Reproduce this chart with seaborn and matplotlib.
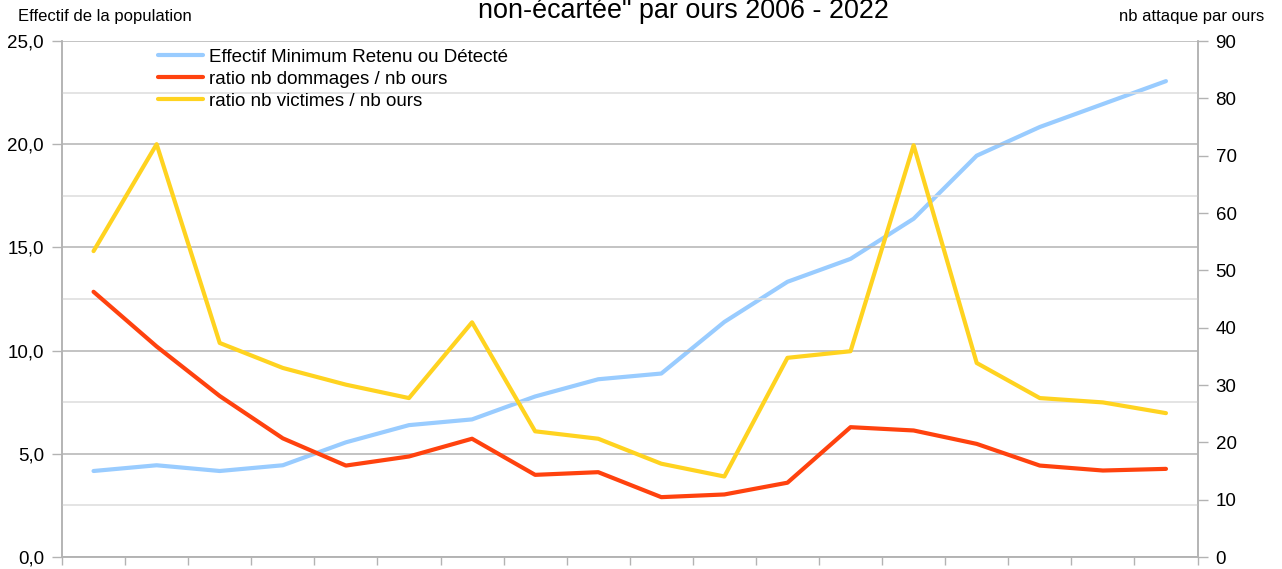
import matplotlib
matplotlib.use("Agg")
import matplotlib.pyplot as plt
import seaborn as sns
import numpy as np
from matplotlib.ticker import FuncFormatter, MultipleLocator

# Données (18 années)
annees = [str(a) for a in range(2006, 2024)]
effectif = [15, 16, 15, 16, 20, 23, 24, 28, 31, 32, 41, 48, 52, 59, 70, 75, 79, 83]
ratio_dommages = [12.85, 10.2, 7.8, 5.75, 4.43, 4.87, 5.73, 3.98, 4.11, 2.9,
                  3.03, 3.6, 6.29, 6.13, 5.48, 4.43, 4.19, 4.27]
ratio_victimes = [14.82, 20.0, 10.37, 9.16, 8.35, 7.7, 11.37, 6.09, 5.73, 4.52,
                  3.9, 9.65, 9.97, 19.95, 9.4, 7.7, 7.49, 6.97]

lbl_effectif = "Effectif Minimum Retenu ou Détecté"
lbl_dommages = "ratio nb dommages / nb ours"
lbl_victimes = "ratio nb victimes / nb ours"

sns.set_theme(style="white")
plt.rcParams['font.family'] = ['Liberation Sans', 'DejaVu Sans']
plt.rcParams['text.color'] = 'black'

W, H = 1282, 569
fig = plt.figure(figsize=(W / 100, H / 100), dpi=100)
ax = fig.add_axes([62 / W, 12 / H, (1197.5 - 62) / W, (557 - 41) / H])
ax2 = ax.twinx()

pos = np.arange(len(annees))
grey = '#b3b3b3'

# série de droite (effectif)
sns.lineplot(x=pos, y=effectif, ax=ax2, color='#99ccff', lw=3, label=lbl_effectif)
# séries de gauche (ratios)
sns.lineplot(x=pos, y=ratio_dommages, ax=ax, color='#ff420e', lw=3, label=lbl_dommages)
sns.lineplot(x=pos, y=ratio_victimes, ax=ax, color='#ffd320', lw=3, label=lbl_victimes)
for a in (ax, ax2):
    if a.get_legend() is not None:
        a.get_legend().remove()

ax.set_zorder(ax2.get_zorder() + 1)
ax.patch.set_visible(False)

ax.set_xlim(-0.5, len(annees) - 0.5)
ax.set_ylim(0, 25)
ax2.set_ylim(0, 90)

ax.yaxis.set_major_locator(MultipleLocator(5))
ax.yaxis.set_minor_locator(MultipleLocator(2.5))
ax.yaxis.set_major_formatter(FuncFormatter(lambda v, p: f"{v:.1f}".replace('.', ',')))
ax2.yaxis.set_major_locator(MultipleLocator(10))

ax2.grid(False)
ax.grid(which='major', axis='y', color=grey, lw=1.1)
ax.grid(which='minor', axis='y', color='#dddddd', lw=1.1)
ax.grid(which='major', axis='x', visible=False)
ax.set_axisbelow(True)

ax.set_xticks(np.arange(-0.5, len(annees), 1))
ax.set_xticklabels([])
ax.tick_params(axis='x', length=6, width=1, color=grey, bottom=True)
ax.tick_params(axis='y', which='major', length=7, width=1, color=grey,
               labelsize=13.5, pad=6, labelcolor='black', left=True)
ax.tick_params(axis='y', which='minor', length=0)
ax2.tick_params(axis='y', length=7, width=1, color=grey, labelsize=13.5,
                pad=6, labelcolor='black', right=True)
ax.set_xlabel('')
ax.set_ylabel('')
ax2.set_ylabel('')

for a in (ax, ax2):
    a.spines['top'].set_visible(False)
    for s in ('left', 'right', 'bottom'):
        a.spines[s].set_color(grey)
        a.spines[s].set_linewidth(1.1)

handles = ax2.get_lines()[:1] + ax.get_lines()[:2]
ax.legend(handles, [lbl_effectif, lbl_dommages, lbl_victimes],
          loc='upper left', bbox_to_anchor=(158 / W, 1 - 48.5 / H),
          bbox_transform=fig.transFigure, frameon=False, fontsize=13.5,
          borderpad=0, borderaxespad=0, handlelength=2.4, handletextpad=0.3,
          labelspacing=0.27)

fig.text(683 / W, 1 - 17.5 / H, 'non-écartée" par ours 2006 - 2022',
         ha='center', va='baseline', fontsize=19.4)
fig.text(18 / W, 1 - 17 / H, 'Effectif de la population',
         ha='left', va='center', fontsize=12)
fig.text(1264 / W, 1 - 17 / H, 'nb attaque par ours',
         ha='right', va='center', fontsize=12)

fig.savefig('out.png', dpi=100)
